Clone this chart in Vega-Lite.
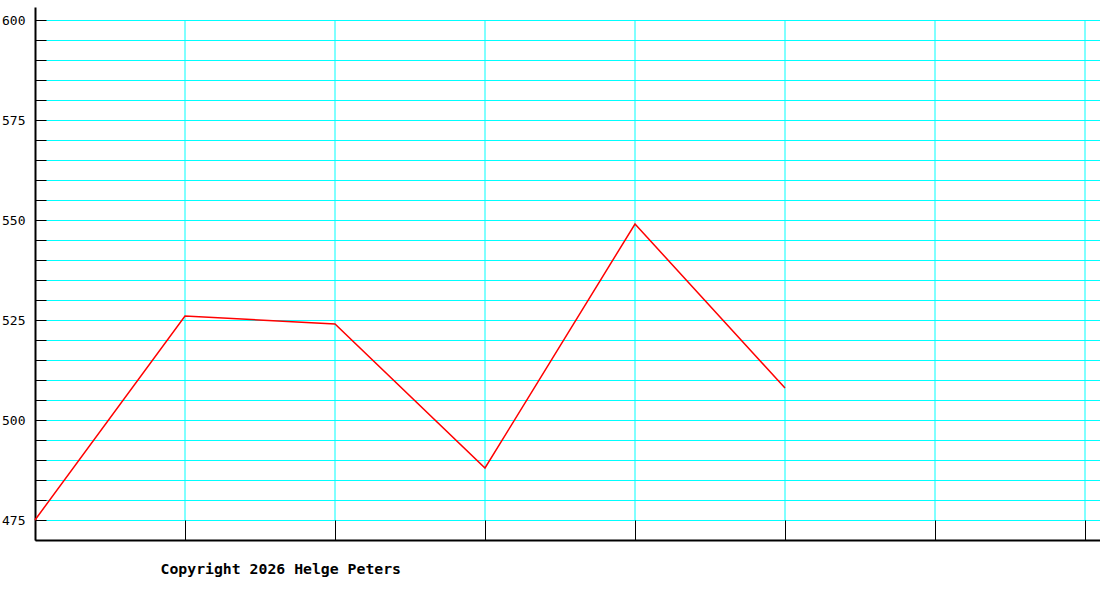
{
  "$schema": "https://vega.github.io/schema/vega-lite/v6.json",
  "width": 1065,
  "height": 533,
  "autosize": {"type": "none"},
  "padding": {"left": 35, "top": 7, "right": 0, "bottom": 60},
  "background": "white",
  "datasets": {
    "series": [
      {"step": 0, "value": 475},
      {"step": 1, "value": 526},
      {"step": 2, "value": 524},
      {"step": 3, "value": 488},
      {"step": 4, "value": 549},
      {"step": 5, "value": 508}
    ],
    "columns": [
      {"step": 1, "low": 475, "high": 600},
      {"step": 2, "low": 475, "high": 600},
      {"step": 3, "low": 475, "high": 600},
      {"step": 4, "low": 475, "high": 600},
      {"step": 5, "low": 475, "high": 600},
      {"step": 6, "low": 475, "high": 600},
      {"step": 7, "low": 475, "high": 600}
    ]
  },
  "layer": [
    {
      "data": {"name": "columns"},
      "mark": {"type": "rule", "color": "#00FFFF", "strokeWidth": 1},
      "encoding": {
        "x": {"field": "step", "type": "quantitative"},
        "y": {"field": "low", "type": "quantitative"},
        "y2": {"field": "high"}
      }
    },
    {
      "data": {"name": "series"},
      "mark": {"type": "line", "color": "#FF0000", "strokeWidth": 1.5},
      "encoding": {
        "x": {"field": "step", "type": "quantitative"},
        "y": {"field": "value", "type": "quantitative"}
      }
    }
  ],
  "resolve": {"scale": {"x": "shared", "y": "shared"}},
  "encoding": {
    "x": {
      "field": "step",
      "type": "quantitative",
      "scale": {"domain": [0, 7.1], "nice": false, "zero": false},
      "axis": {
        "orient": "bottom",
        "values": [0, 1, 2, 3, 4, 5, 6, 7],
        "labels": false,
        "grid": false,
        "tickSize": -20,
        "tickColor": "black",
        "tickWidth": 1,
        "domainColor": "black",
        "domainWidth": 2,
        "title": "Copyright 2026 Helge Peters",
        "titleFont": "DejaVu Sans Mono",
        "titleFontSize": 14.8,
        "titleFontWeight": "bold",
        "titleColor": "black",
        "titleAlign": "left",
        "titleAnchor": "start",
        "titleBaseline": "alphabetic",
        "titleX": 125,
        "titleY": 33
      }
    },
    "y": {
      "type": "quantitative",
      "scale": {"domain": [470, 603.25], "nice": false, "zero": false},
      "axis": {
        "values": [475, 480, 485, 490, 495, 500, 505, 510, 515, 520, 525, 530, 535, 540, 545, 550, 555, 560, 565, 570, 575, 580, 585, 590, 595, 600],
        "labelExpr": "datum.value % 25 === 0 ? datum.label : ''",
        "grid": true,
        "gridColor": "#00FFFF",
        "gridOpacity": 1,
        "gridWidth": 1,
        "tickSize": -11,
        "tickColor": "black",
        "tickWidth": 1,
        "domainColor": "black",
        "domainWidth": 2,
        "labelPadding": 21,
        "labelFont": "DejaVu Sans Mono",
        "labelFontSize": 13,
        "labelColor": "black",
        "title": null
      }
    }
  },
  "config": {
    "view": {"stroke": null}
  }
}
